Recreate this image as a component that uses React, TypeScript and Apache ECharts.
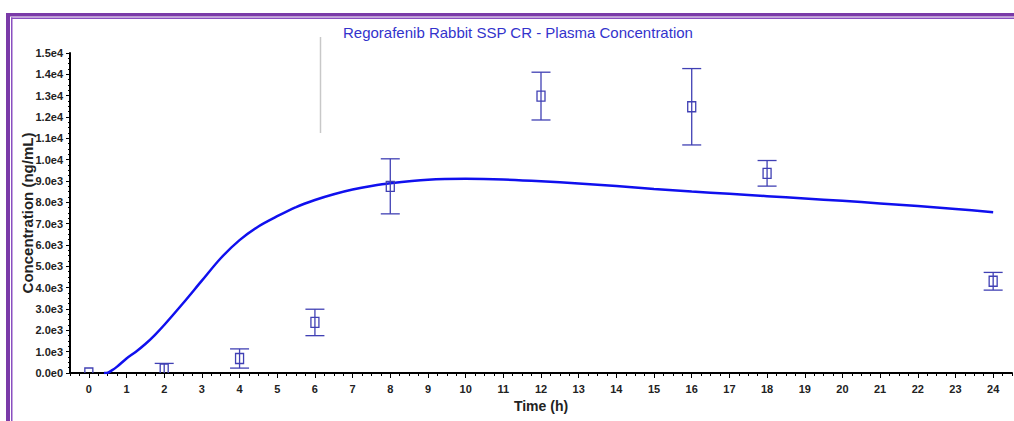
import React, { useEffect, useRef } from "react";
import * as echarts from "echarts";

// Model prediction curve (time h, concentration ng/mL)
const curveTime = [0.4, 0.5, 0.6, 0.75, 1, 1.25, 1.5, 1.75, 2, 2.5, 3, 3.5, 4, 4.5, 5, 5.5, 6, 6.5, 7, 7.5, 8, 9, 10, 11, 12, 13, 14, 15, 16, 17, 18, 19, 20, 21, 22, 23, 24];
const curveConc = [0, 10, 110, 300, 680, 1000, 1360, 1780, 2250, 3270, 4330, 5380, 6230, 6870, 7350, 7780, 8110, 8380, 8600, 8770, 8900, 9060, 9100, 9070, 8990, 8880, 8760, 8630, 8510, 8400, 8290, 8180, 8070, 7950, 7830, 7690, 7540];

// Observed data (mean ± SD)
const obsTime = [0, 2, 4, 6, 8, 12, 16, 18, 24];
const obsMean = [0, 180, 680, 2370, 8750, 12980, 12480, 9360, 4300];
const obsSD = [0, 270, 450, 620, 1290, 1120, 1790, 600, 415];

const xTicks = [0, 1, 2, 3, 4, 5, 6, 7, 8, 9, 10, 11, 12, 13, 14, 15, 16, 17, 18, 19, 20, 21, 22, 23, 24];

const TITLE = "Regorafenib Rabbit SSP CR - Plasma Concentration";
const X_NAME = "Time (h)";
const Y_NAME = "Concentration (ng/mL)";

const FONT = "'Liberation Sans', Arial, sans-serif";
const BAR_COLOR = "#4040b4";
const CURVE_COLOR = "#1010ee";

function fmtY(v: number): string {
  if (v === 0) return "0.0e0";
  const e = Math.floor(Math.log10(v) + 1e-9);
  return (v / Math.pow(10, e)).toFixed(1) + "e" + e;
}

export default function App() {
  const ref = useRef<HTMLDivElement>(null);
  useEffect(() => {
    if (!ref.current) return;
    const chart = echarts.init(ref.current, null, { renderer: "svg" });
    const xMin = -0.5;
    const xMax = 24.5;
    const minorX: number[] = [];
    for (let k = 0; k <= (xMax - xMin) * 4; k++) {
      const v = xMin + k * 0.25;
      if (Math.abs(v - Math.round(v)) > 1e-6) minorX.push(v);
    }
    const option: any = {
      animation: false,
      backgroundColor: "#ffffff",
      title: {
        text: TITLE,
        left: 338,
        top: 20,
        textStyle: { fontFamily: FONT, fontSize: 15, fontWeight: "normal", color: "#3333cc" },
      },
      grid: { left: 70, right: 2, top: 53, bottom: 48, containLabel: false },
      xAxis: [
        {
          type: "value",
          min: xMin,
          max: xMax,
          name: X_NAME,
          nameLocation: "middle",
          nameGap: 26,
          nameTextStyle: { fontFamily: FONT, fontSize: 14, fontWeight: "bold", color: "#222" },
          axisLine: { show: true, onZero: false, lineStyle: { color: "#000", width: 2 } },
          axisTick: { show: true, customValues: xTicks, length: 5, lineStyle: { color: "#000", width: 1 } },
          axisLabel: {
            customValues: xTicks,
            margin: 10,
            fontFamily: FONT,
            fontSize: 11,
            fontWeight: "bold",
            color: "#222",
          },
          splitLine: { show: false },
        },
        {
          type: "value",
          min: xMin,
          max: xMax,
          position: "bottom",
          axisLine: { show: false, onZero: false },
          axisTick: { show: true, customValues: minorX, length: 3, lineStyle: { color: "#000", width: 1 } },
          axisLabel: { show: false },
          splitLine: { show: false },
        },
      ],
      yAxis: {
        type: "value",
        min: 0,
        max: 15000,
        interval: 1000,
        name: Y_NAME,
        nameLocation: "middle",
        nameRotate: 90,
        nameGap: 35,
        nameMoveOverlap: false,
        nameTextStyle: { fontFamily: FONT, fontSize: 15, fontWeight: "bold", color: "#222" },
        axisLine: { show: true, onZero: false, lineStyle: { color: "#000", width: 2 } },
        axisTick: { show: true, length: 4, lineStyle: { color: "#000", width: 1 } },
        minorTick: { show: true, splitNumber: 4, length: 2, lineStyle: { color: "#000", width: 1 } },
        axisLabel: {
          formatter: fmtY,
          margin: 7,
          fontFamily: FONT,
          fontSize: 11,
          fontWeight: "bold",
          color: "#222",
        },
        splitLine: { show: false },
        minorSplitLine: { show: false },
      },
      series: [
        {
          type: "line",
          xAxisIndex: 0,
          data: curveTime.map((t, i) => [t, curveConc[i]]),
          smooth: 0.3,
          showSymbol: false,
          symbol: "none",
          lineStyle: { color: CURVE_COLOR, width: 2.5 },
          z: 3,
        },
        {
          type: "custom",
          xAxisIndex: 0,
          clip: true,
          z: 4,
          data: obsTime.map((t, i) => [t, obsMean[i], obsSD[i]]),
          encode: { x: 0, y: 1 },
          renderItem: (params: any, api: any) => {
            const x = api.value(0);
            const m = api.value(1);
            const sd = api.value(2);
            const c = api.coord([x, m]);
            const children: any[] = [];
            const style = { stroke: BAR_COLOR, lineWidth: 1.3, fill: "none" };
            if (sd > 0) {
              const hi = api.coord([x, m + sd]);
              const lo = api.coord([x, m - sd]);
              const cap = 9.5;
              children.push({ type: "line", shape: { x1: c[0], y1: hi[1], x2: c[0], y2: lo[1] }, style });
              children.push({ type: "line", shape: { x1: c[0] - cap, y1: hi[1], x2: c[0] + cap, y2: hi[1] }, style });
              children.push({ type: "line", shape: { x1: c[0] - cap, y1: lo[1], x2: c[0] + cap, y2: lo[1] }, style });
            }
            children.push({ type: "rect", shape: { x: c[0] - 4, y: c[1] - 5, width: 8, height: 10 }, style });
            return { type: "group", children };
          },
        },
      ],
      graphic: [
        { type: "rect", shape: { x: 6, y: 13, width: 1010, height: 3.5 }, style: { fill: "#7a3aa8" }, silent: true },
        { type: "rect", shape: { x: 11, y: 17.5, width: 1005, height: 1.5 }, style: { fill: "#8a4fc0" }, silent: true },
        { type: "rect", shape: { x: 6, y: 13, width: 4, height: 410 }, style: { fill: "#7a3aa8" }, silent: true },
        { type: "rect", shape: { x: 11, y: 17.5, width: 1.5, height: 405 }, style: { fill: "#8a4fc0" }, silent: true },
        { type: "line", shape: { x1: 320.5, y1: 37, x2: 320.5, y2: 133 }, style: { stroke: "#c8c8c8", lineWidth: 1.5 }, silent: true },
      ],
    };
    chart.setOption(option);
    return () => chart.dispose();
  }, []);
  return (
    <div
      ref={ref}
      style={{ position: "absolute", left: 0, top: 0, width: 1014, height: 421 }}
    />
  );
}
